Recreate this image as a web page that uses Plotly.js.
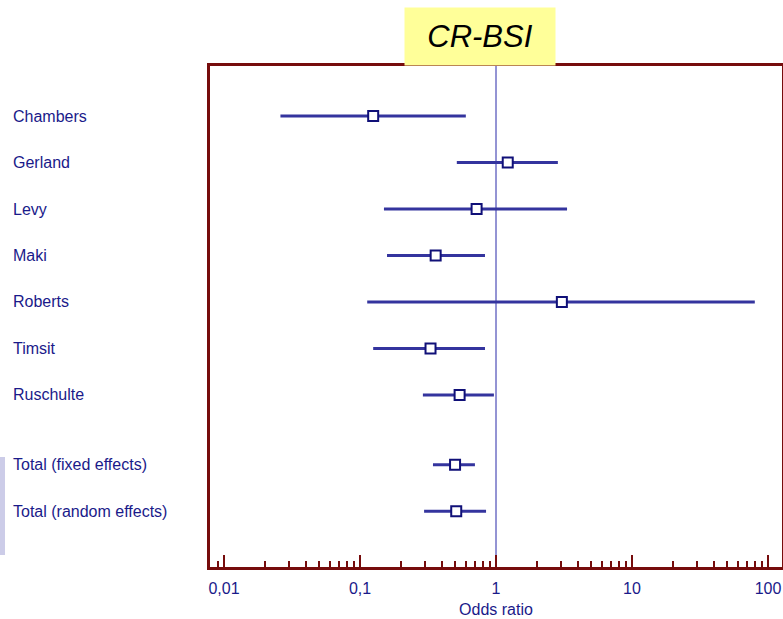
<!DOCTYPE html>
<html><head><meta charset="utf-8">
<script src="https://cdn.plot.ly/plotly-3.0.1.min.js"></script>
<style>html,body{margin:0;padding:0;background:#fff;}#chart{width:783px;height:619px;}</style>
</head><body><div id="chart"></div>
<script>
// Data
const studies = ["Chambers","Gerland","Levy","Maki","Roberts","Timsit","Ruschulte"];
const studyOR = [0.125, 1.22, 0.72, 0.36, 3.05, 0.33, 0.54];
const studyLo = [0.026, 0.515, 0.150, 0.158, 0.113, 0.125, 0.290];
const studyHi = [0.60, 2.85, 3.33, 0.83, 80.0, 0.83, 0.965];
const totals = ["Total (fixed effects)","Total (random effects)"];
const totalOR = [0.50, 0.51];
const totalLo = [0.344, 0.296];
const totalHi = [0.70, 0.845];
const tickVals = [0.01, 0.1, 1, 10, 100];
const tickText = ["0,01","0,1","1","10","100"];
const chartTitle = "CR-BSI";
const xTitle = "Odds ratio";

const labels = studies.concat(totals);
const ors = studyOR.concat(totalOR);
const los = studyLo.concat(totalLo);
const his = studyHi.concat(totalHi);
const rows = labels.map((_, i) => i < studies.length ? i : i + 0.5);

const navy = "#1a1a8a";
const barCol = "#34349e";
const frame = "#760c0c";
const fam = "Liberation Sans, Arial, sans-serif";

const minorVals = [];
for (let e = -3; e <= 2; e++) for (let m = 2; m <= 9; m++) minorVals.push(m * Math.pow(10, e));

const trace = {
  type: "scatter", mode: "markers",
  x: ors, y: rows,
  marker: {symbol: "square", size: 10, color: "#ffffff", line: {color: "#101078", width: 2}},
  error_x: {type: "data", symmetric: false,
    array: ors.map((v, i) => his[i] - v),
    arrayminus: ors.map((v, i) => v - los[i]),
    color: barCol, thickness: 3, width: 0},
  hoverinfo: "x+text", text: labels
};

const annotations = labels.map((t, i) => ({
  xref: "paper", yref: "y", x: (11 - 210) / 572, y: rows[i],
  xanchor: "left", yanchor: "middle", text: t, showarrow: false,
  font: {family: fam, size: 16, color: navy}
}));
annotations.push({
  xref: "paper", yref: "paper", x: (480 - 210) / 572, y: 1, xanchor: "center", yanchor: "bottom",
  text: "<i>" + chartTitle + "</i>", showarrow: false, bgcolor: "#ffff99", width: 150, height: 57, borderpad: 0,
  font: {family: fam, size: 31, color: "#000000"}, valign: "middle"
});

const layout = {
  width: 783, height: 619,
  margin: {l: 210, r: 1, t: 66, b: 52},
  paper_bgcolor: "#ffffff", plot_bgcolor: "#ffffff",
  showlegend: false,
  xaxis: {
    type: "log", range: [-2.103, 2.103],
    tickvals: tickVals, ticktext: tickText,
    ticks: "inside", ticklen: 12, tickwidth: 2, tickcolor: frame,
    ticklabelstandoff: 5,
    minor: {tickvals: minorVals, ticks: "inside", ticklen: 6, tickwidth: 2, tickcolor: frame, showgrid: false},
    showgrid: false, zeroline: false,
    showline: true, linecolor: frame, linewidth: 3, mirror: true,
    tickfont: {family: fam, size: 16, color: navy},
    title: {text: xTitle, font: {family: fam, size: 16, color: navy}, standoff: 8}
  },
  yaxis: {
    range: [9.70, -1.076], showticklabels: false, ticks: "",
    showgrid: false, zeroline: false,
    showline: true, linecolor: frame, linewidth: 3, mirror: true
  },
  shapes: [
    {type: "line", xref: "x", yref: "paper", x0: 1, x1: 1, y0: 0, y1: 1, line: {color: "#2828a8", width: 1}, layer: "below"},
    {type: "rect", xref: "paper", yref: "paper", x0: -210 / 572, x1: -205 / 572, y0: (619 - 52 - 555) / 501, y1: (619 - 52 - 457) / 501, fillcolor: "#cccce8", line: {width: 0}}
  ],
  annotations: annotations
};

Plotly.newPlot("chart", [trace], layout, {displayModeBar: false, staticPlot: true});
</script></body></html>
